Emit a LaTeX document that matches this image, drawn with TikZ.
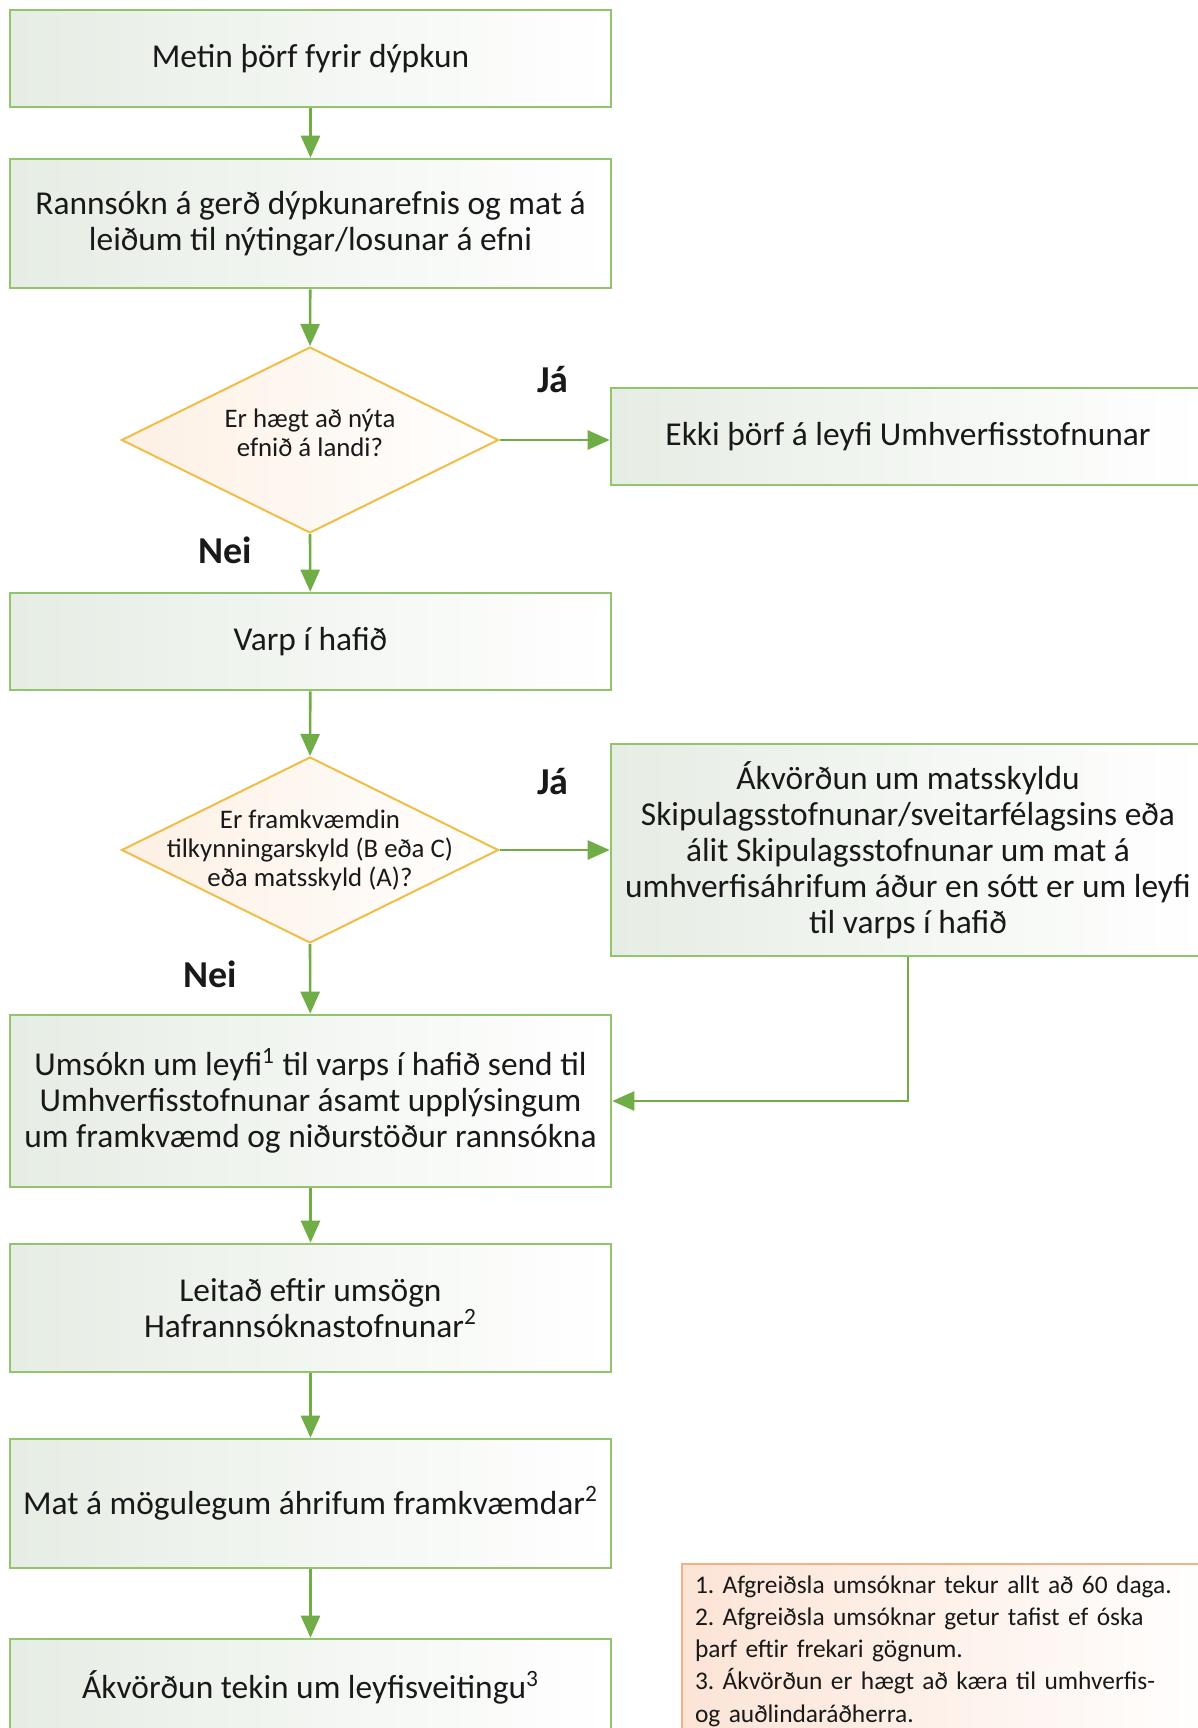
\documentclass[tikz,border=0pt]{standalone}
\usepackage{fontspec}
\setmainfont{Carlito}
\usetikzlibrary{shapes.geometric,arrows.meta}
\definecolor{boxline}{RGB}{146,196,110}
\definecolor{arrowgreen}{RGB}{112,173,71}
\definecolor{boxfill}{RGB}{230,237,228}
\definecolor{diaLine}{RGB}{240,190,70}
\definecolor{diaFill}{RGB}{253,240,228}
\definecolor{noteLine}{RGB}{244,177,131}
\definecolor{noteFill}{RGB}{252,228,214}
\definecolor{ink}{RGB}{25,25,25}
\begin{document}
\frenchspacing
\begin{tikzpicture}[x=0.5pt,y=-0.5pt,
  stepbox/.style={draw=boxline, line width=1.3pt, left color=boxfill, right color=white,
    minimum width=300.5pt, inner sep=0pt, align=center, text=ink,
    font=\fontsize{16.7}{18}\selectfont},
  sidebox/.style={stepbox, minimum width=297pt},
  dia/.style={diamond, draw=diaLine, line width=1pt, left color=diaFill, right color=white,
    minimum width=188.5pt, minimum height=93pt, inner sep=0pt, aspect=2},
  dtext/.style={align=center, text=ink, font=\fontsize{13.4}{14.5}\selectfont},
  yesno/.style={text=ink, font=\fontsize{19}{21}\selectfont\bfseries},
  flow/.style={draw=arrowgreen, line width=1.3pt, -{Triangle[length=11pt,width=9.5pt]}},
  notebox/.style={draw=noteLine, line width=1pt, left color=noteFill, right color=white,
    anchor=north west, minimum width=265pt, align=left,
    text=ink, inner xsep=6.5pt, inner ysep=6pt, text width=252pt,
    font=\fontsize{12.7}{16.05}\selectfont}
]
\useasboundingbox (0,0) rectangle (1198,1728);
\fill[white] (0,0) rectangle (1198,1728);

\node[stepbox, minimum height=48.5pt] (b1) at (310.5,58.5) {Metin þörf fyrir dýpkun};
\node[stepbox, minimum height=64.5pt] (b2) at (310.5,223.5) {Rannsókn á gerð dýpkunarefnis og mat á\\leiðum til nýtingar/losunar á efni};
\node[dia, label={[dtext, yshift=3.5pt]center:Er hægt að nýta\\efnið á landi?}] (d1) at (310,440) {};
\node[sidebox, minimum height=48.5pt] (e1) at (908,436.5) {Ekki þörf á leyfi Umhverfisstofnunar};
\node[stepbox, minimum height=48.5pt] (b3) at (310.5,641.5) {Varp í hafið};
\node[dia, label={[dtext]center:Er framkvæmdin\\tilkynningarskyld (B eða C)\\eða matsskyld (A)?}] (d2) at (310,850) {};
\node[sidebox, minimum height=106pt] (e2) at (908,850) {Ákvörðun um matsskyldu\\Skipulagsstofnunar/sveitarfélagsins eða\\álit Skipulagsstofnunar um mat á\\umhverfisáhrifum áður en sótt er um leyfi\\til varps í hafið};
\node[stepbox, minimum height=86pt] (b4) at (310.5,1101) {Umsókn um leyfi\textsuperscript{1} til varps í hafið send til\\Umhverfisstofnunar ásamt upplýsingum\\um framkvæmd og niðurstöður rannsókna};
\node[stepbox, minimum height=64pt] (b5) at (310.5,1308) {Leitað eftir umsögn\\Hafrannsóknastofnunar\textsuperscript{2}};
\node[stepbox, minimum height=64.5pt] (b6) at (310.5,1503.5) {Mat á mögulegum áhrifum framkvæmdar\textsuperscript{2}};
\node[stepbox, minimum height=48.5pt] (b7) at (310.5,1687.5) {Ákvörðun tekin um leyfisveitingu\textsuperscript{3}};
\node[notebox] (notes) at (681,1563) {1. Afgreiðsla umsóknar tekur allt að 60 daga.\\2. Afgreiðsla umsóknar getur tafist ef óska\\þarf eftir frekari gögnum.\\3. Ákvörðun er hægt að kæra til umhverfis-\\og auðlindaráðherra.};

\node[yesno] (ja1) at (553,380) {Já};
\node[yesno] (nei1) at (225,550) {Nei};
\node[yesno] (ja2) at (553,782) {Já};
\node[yesno] (nei2) at (210,974) {Nei};

\draw[flow] (b1) -- (b2);
\draw[flow] (b2) -- (d1.north);
\draw[flow] (d1.east) -- (d1.east -| e1.west);
\draw[flow] (d1.south) -- (b3);
\draw[flow] (b3) -- (d2.north);
\draw[flow] (d2.east) -- (d2.east -| e2.west);
\draw[flow] (d2.south) -- (b4);
\draw[flow] (e2.south) |- (b4.east);
\draw[flow] (b4) -- (b5);
\draw[flow] (b5) -- (b6);
\draw[flow] (b6) -- (b7);
\end{tikzpicture}
\end{document}
